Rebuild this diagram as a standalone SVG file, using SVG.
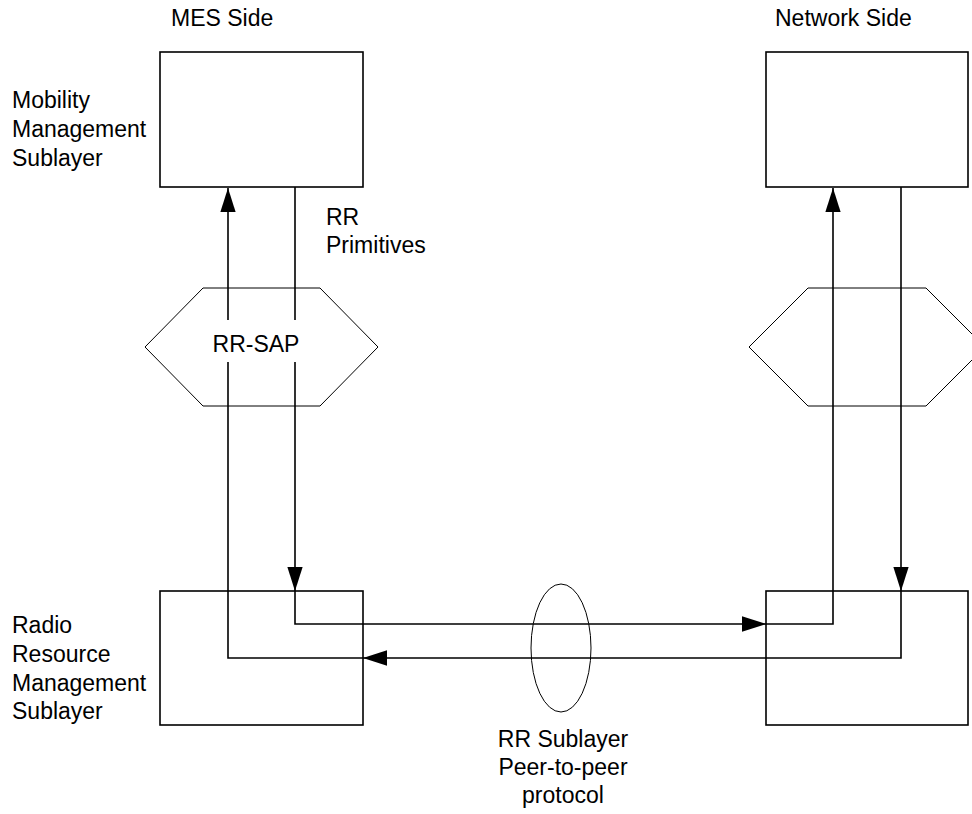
<svg xmlns="http://www.w3.org/2000/svg" width="972" height="814" viewBox="0 0 972 814">
<defs>
<marker id="arr" markerUnits="userSpaceOnUse" markerWidth="24" markerHeight="16" viewBox="0 0 22 14" refX="22" refY="7" orient="auto">
<path d="M0,0 L22,7 L0,14 Z" fill="#000"/>
</marker>
</defs>
<style>
text{font-family:"Liberation Sans",Arial,sans-serif;font-size:23px;fill:#000}
.box{fill:#fff;stroke:#000;stroke-width:1.6}
.thin{fill:none;stroke:#000;stroke-width:1}
.conn{fill:none;stroke:#000;stroke-width:1.6}
</style>
<rect width="972" height="814" fill="#fff"/>
<text x="171" y="26">MES Side</text>
<text x="775" y="26">Network Side</text>
<g id="mm-mes">
<rect class="box" x="160" y="52" width="203" height="135"/>
<text x="12" y="108">Mobility</text>
<text x="12" y="137">Management</text>
<text x="12" y="166">Sublayer</text>
</g>
<g id="mm-net">
<rect class="box" x="766" y="52" width="202" height="135"/>
</g>
<g id="sap-mes">
<polygon class="thin" points="145,347 203,288 320,288 378,347 320,406 203,406"/>
<text x="256" y="352" text-anchor="middle">RR-SAP</text>
</g>
<g id="sap-net">
<polygon class="thin" points="749,347 808,288 926,288 985,347 926,406 808,406"/>
</g>
<g id="rr-mes">
<rect class="box" x="160" y="591" width="203" height="134"/>
<text x="12" y="633">Radio</text>
<text x="12" y="662">Resource</text>
<text x="12" y="691">Management</text>
<text x="12" y="719">Sublayer</text>
</g>
<g id="rr-net">
<rect class="box" x="766" y="591" width="202" height="134"/>
</g>
<g id="peer">
<ellipse class="thin" cx="561" cy="648" rx="30" ry="64"/>
<text x="563" y="747" text-anchor="middle">RR Sublayer</text>
<text x="563" y="775" text-anchor="middle">Peer-to-peer</text>
<text x="563" y="803" text-anchor="middle">protocol</text>
</g>
<text x="326" y="225">RR</text>
<text x="326" y="253">Primitives</text>
<g id="connectors">
<path class="conn" d="M295,187 V320 M295,362 V591" marker-end="url(#arr)"/>
<path class="conn" d="M295,591 V624 H766" marker-end="url(#arr)"/>
<path class="conn" d="M766,624 H833 V188" marker-end="url(#arr)"/>
<path class="conn" d="M901,187 V591" marker-end="url(#arr)"/>
<path class="conn" d="M901,591 V658 H363" marker-end="url(#arr)"/>
<path class="conn" d="M363,658 H228 V362 M228,320 V188" marker-end="url(#arr)"/>
</g>
</svg>
